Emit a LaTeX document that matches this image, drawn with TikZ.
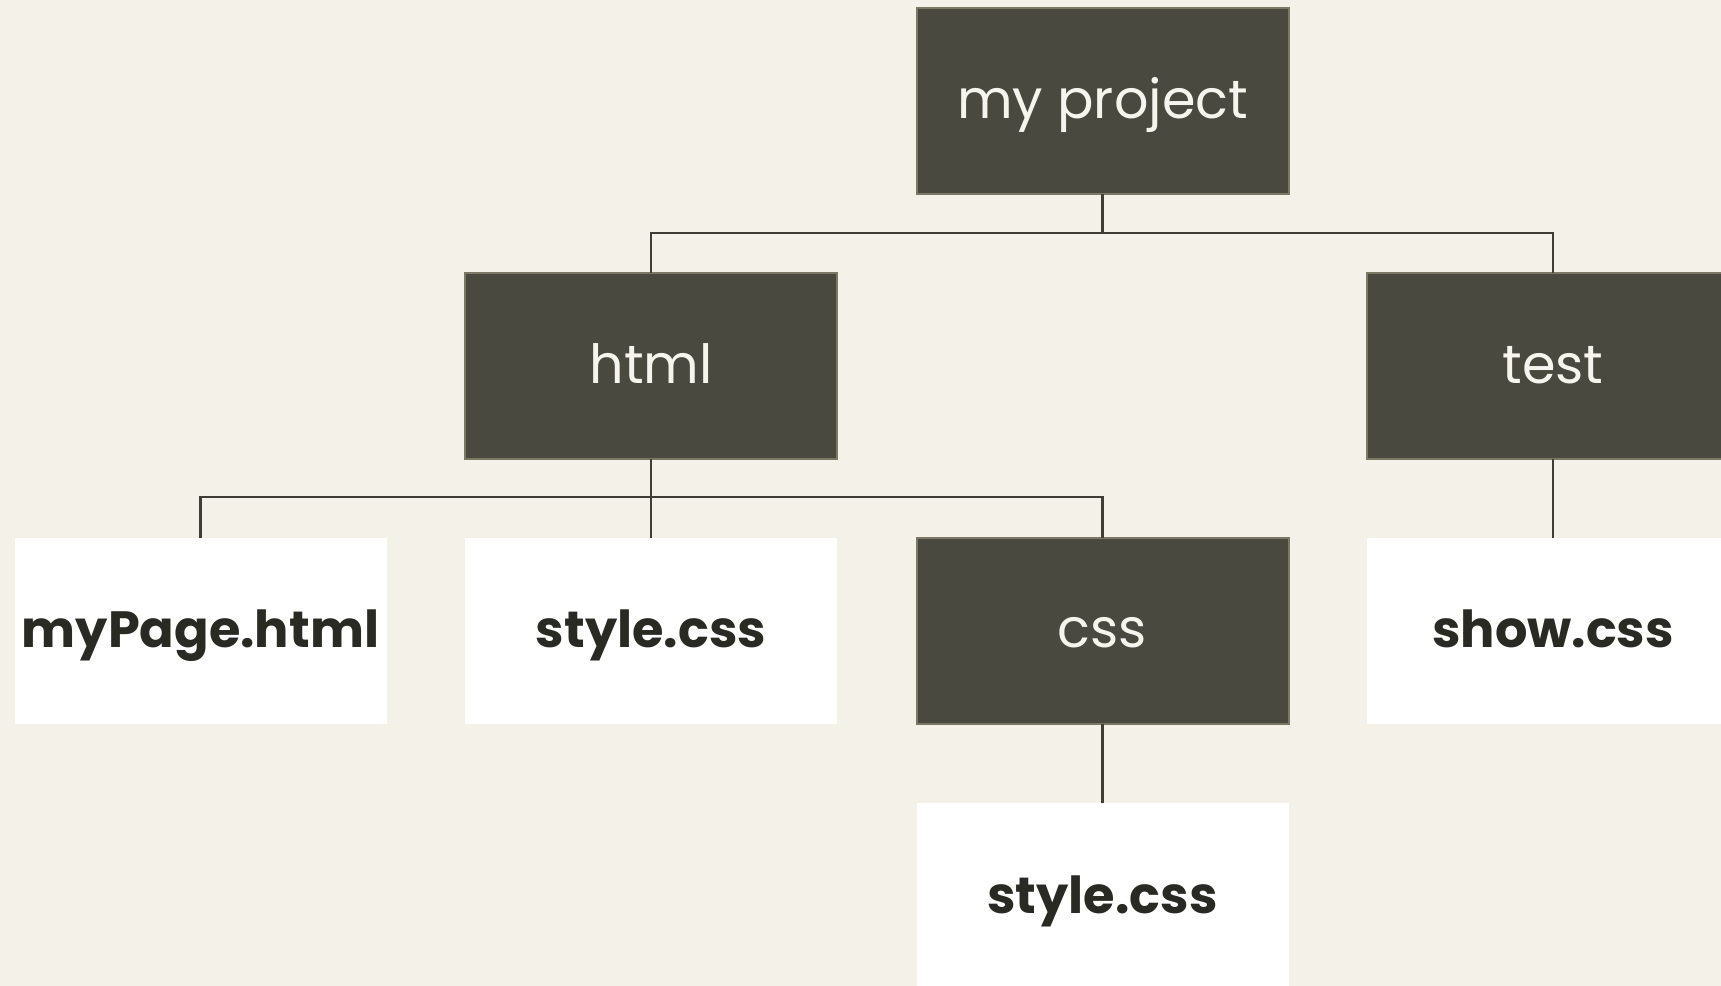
\documentclass[tikz,border=0pt]{standalone}
\usepackage{fontspec}
\setmainfont{Poppins}
\definecolor{bg}{HTML}{F4F1E9}
\definecolor{darkfill}{HTML}{4A4940}
\definecolor{darkborder}{HTML}{7B7865}
\definecolor{lighttext}{HTML}{F6F4EE}
\definecolor{boldtext}{HTML}{2A2A24}
\definecolor{linecol}{HTML}{3E3D36}
\begin{document}
\begin{tikzpicture}[x=0.5pt,y=-0.5pt,
  box/.style={rectangle, minimum width=186pt, minimum height=93pt, inner sep=0pt, outer sep=0pt, text height=19pt, text depth=2pt},
  dark/.style={box, fill=darkfill, draw=darkborder, line width=1pt, text=lighttext, font=\fontsize{27}{30}\selectfont},
  light/.style={box, fill=white, text=boldtext, font=\fontsize{25.5}{30}\selectfont\bfseries},
  conn/.style={draw=linecol, line width=1.2pt}]
\clip (0,0) rectangle (1721,986);
\fill[bg] (0,0) rectangle (1721,986);
\node[dark] (proj) at (1102.5,101) {my project};
\node[dark] (html) at (651,366) {html};
\node[dark] (test) at (1553,366) {test};
\node[light] (mypage) at (200.5,630.5) {myPage.html};
\node[light] (style1) at (651,630.5) {style.css};
\node[dark] (css) at (1102.5,630.5) {css};
\node[light] (show) at (1553,630.5) {show.css};
\node[light] (style2) at (1102.5,896) {style.css};
\coordinate (j1) at (1102.5,233);
\coordinate (j2) at (651,497);
\draw[conn] (proj.south) -- (j1);
\draw[conn] (j1) -| (html.north);
\draw[conn] (j1) -| (test.north);
\draw[conn] (html.south) -- (style1.north);
\draw[conn] (j2) -| (mypage.north);
\draw[conn] (j2) -| (css.north);
\draw[conn] (css.south) -- (style2.north);
\draw[conn] (test.south) -- (show.north);
\end{tikzpicture}
\end{document}
